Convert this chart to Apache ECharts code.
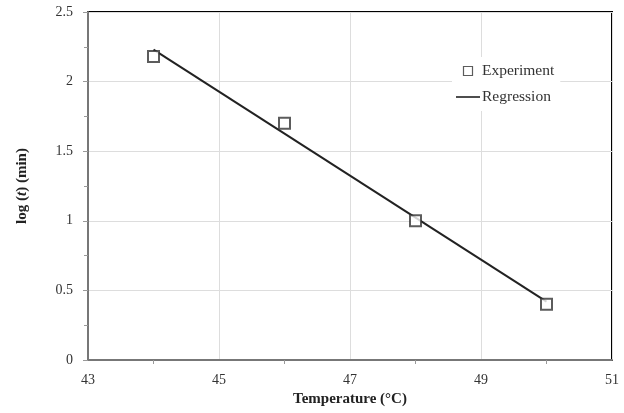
<!DOCTYPE html>
<html><head><meta charset="utf-8">
<script src="https://cdn.jsdelivr.net/npm/echarts@6/dist/echarts.min.js"></script>
<style>html,body{margin:0;padding:0;background:#fff}#c{width:624px;height:413px}</style>
</head><body><div id="c"></div>
<script>
var temperature = [44, 46, 48, 50];
var experiment = [2.18, 1.70, 1.00, 0.40];
var regressionX = [44, 50];
var regressionY = [2.23, 0.42];
var xTicks = [43, 45, 47, 49, 51];
var yTicks = [0, 0.5, 1, 1.5, 2, 2.5];

var F = 'Liberation Serif, Times New Roman, serif';
var chart = echarts.init(document.getElementById('c'));
chart.setOption({
  animation: false,
  backgroundColor: '#fff',
  grid: { left: 88, right: 12, top: 12, bottom: 53, show: true, borderColor: '#000', borderWidth: 2, backgroundColor: 'transparent' },
  legend: {
    orient: 'vertical', left: 452, top: 57, backgroundColor: '#fff',
    padding: [6, 6, 6, 4], itemGap: 10, itemWidth: 24, itemHeight: 9,
    symbolKeepAspect: true,
    textStyle: { fontFamily: F, fontSize: 15.5, color: '#333', padding: [0, 0, 0, -3] },
    data: [
      { name: 'Experiment', icon: 'path://M0,0H10V10H0Z', itemStyle: { color: '#fff', borderColor: '#333', borderWidth: 1.2 } },
      { name: 'Regression', icon: 'path://M0,0H24V1.6H0Z', itemStyle: { color: '#222', borderWidth: 0 } }
    ]
  },
  xAxis: {
    type: 'value', min: xTicks[0], max: xTicks[xTicks.length - 1], interval: 2,
    name: 'Temperature (°C)', nameLocation: 'middle', nameGap: 31,
    nameTextStyle: { fontFamily: F, fontSize: 15, fontWeight: 'bold', color: '#222' },
    axisLine: { lineStyle: { color: '#777', width: 2 } },
    axisTick: { show: false },
    minorTick: { show: true, splitNumber: 2, length: 4, lineStyle: { color: '#999' } },
    axisLabel: { fontFamily: F, fontSize: 14, color: '#333', margin: 13 },
    splitLine: { lineStyle: { color: '#ddd' } }
  },
  yAxis: {
    type: 'value', min: yTicks[0], max: yTicks[yTicks.length - 1], interval: 0.5,
    name: '{b|log (}{i|t}{b|) (min)}', nameLocation: 'middle', nameGap: 58,
    nameTextStyle: { rich: {
      b: { fontFamily: F, fontSize: 15, fontWeight: 'bold', color: '#222' },
      i: { fontFamily: F, fontSize: 15, fontWeight: 'bold', fontStyle: 'italic', color: '#222' } } },
    axisLine: { lineStyle: { color: '#777', width: 2 } },
    axisTick: { show: true, length: 5, lineStyle: { color: '#999' } },
    minorTick: { show: true, splitNumber: 2, length: 4, lineStyle: { color: '#999' } },
    axisLabel: { fontFamily: F, fontSize: 14, color: '#333', margin: 15 },
    splitLine: { lineStyle: { color: '#ddd' } }
  },
  series: [
    {
      name: 'Regression', type: 'line', symbol: 'none', z: 2,
      lineStyle: { color: '#222', width: 2 },
      itemStyle: { color: '#222' },
      data: regressionX.map(function (x, i) { return [x, regressionY[i]]; })
    },
    {
      name: 'Experiment', type: 'scatter', symbol: 'emptyRect', symbolSize: 11, symbolKeepAspect: true, z: 3,
      itemStyle: { color: '#333', borderWidth: 1.2 },
      data: temperature.map(function (x, i) { return [x, experiment[i]]; })
    }
  ]
});
</script></body></html>
